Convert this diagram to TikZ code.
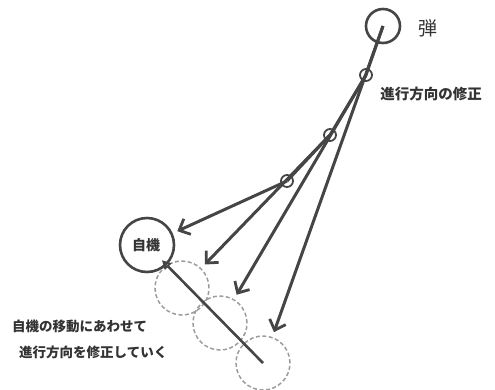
\documentclass[tikz,border=0pt]{standalone}
\usepackage{fontspec}
\newfontfamily\jp{Noto Sans CJK JP}
\usetikzlibrary{arrows.meta}
\definecolor{ln}{HTML}{454545}
\definecolor{dsh}{HTML}{9C9C9C}
\definecolor{tx}{HTML}{333333}
\tikzset{
  bigcirc/.style={circle, draw=ln, line width=2.6pt, inner sep=0pt},
  smallcirc/.style={circle, draw=ln, line width=1.8pt, minimum size=12pt, inner sep=0pt},
  ghost/.style={circle, draw=dsh, line width=1.5pt, dash pattern=on 4pt off 2.5pt, minimum size=54pt, inner sep=0pt},
  heading/.style={draw=ln, line width=3pt, -{Straight Barb[length=9pt,width=17pt,line width=2.8pt]}, shorten >=5pt},
  pathline/.style={draw=ln, line width=3pt},
  lbl/.style={text=tx, font=\jp\bfseries, inner sep=0pt},
}
\begin{document}
\begin{tikzpicture}[x=1pt,y=-1pt]
\useasboundingbox (0,0) rectangle (495,389);
% ghost positions of the player
\node[ghost] (g1) at (182,288) {};
\node[ghost] (g2) at (220,323) {};
\node[ghost] (g3) at (263,363) {};
% player
\node[bigcirc, minimum size=54pt, fill=white] (self) at (147,245) {};
\node[lbl, font=\jp\bfseries\fontsize{14}{14}\selectfont] at (146,245) {自機};
% bullet
\node[bigcirc, minimum size=34pt] (bullet) at (383,26) {};
\node[text=tx, font=\jp\fontsize{19}{19}\selectfont, inner sep=0pt] (dan) at (428,28) {弾};
% path points
\node[smallcirc] (c1) at (366,75) {};
\node[smallcirc] (c2) at (330,135) {};
\node[smallcirc] (c3) at (287,181) {};
% bullet path
\draw[pathline] (bullet.center) -- (c1.center) -- (c2.center) -- (c3.center);
% headings
\draw[heading] (c3.center) -- (self);
\draw[heading] (c2.center) -- (g1);
\draw[heading] (c1.center) -- (g2);
\draw[heading] (bullet.center) -- (g3);
% player movement
\draw[draw=ln, line width=2.6pt, -{Triangle[open,length=9pt,width=9pt,line width=1.8pt]}, shorten >=-7pt] (g3.center) -- (self);
% labels
\node[lbl, font=\jp\bfseries\fontsize{14.5}{14.5}\selectfont] (fix) at (431,94) {進行方向の修正};
\node[lbl, font=\jp\bfseries\fontsize{13.5}{13.5}\selectfont, anchor=west] (m1) at (12,326) {自機の移動にあわせて};
\node[lbl, font=\jp\bfseries\fontsize{13.5}{13.5}\selectfont, anchor=west] (m2) at (19,352) {進行方向を修正していく};
\end{tikzpicture}
\end{document}
